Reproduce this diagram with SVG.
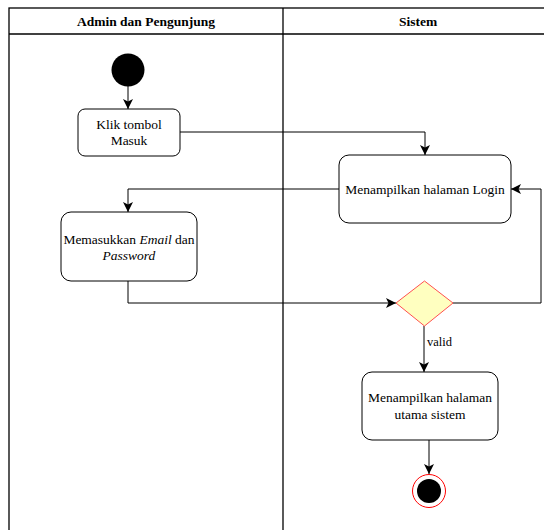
<svg xmlns="http://www.w3.org/2000/svg" width="544" height="530" viewBox="0 0 544 530">
<defs>
<style>
.lane{fill:none;stroke:#000;stroke-width:1.3}
.hdr{font-family:'Liberation Serif','Times New Roman','DejaVu Serif',serif;font-size:13.5px;font-weight:bold;text-anchor:middle;fill:#000}
.node{fill:#fff;stroke:#000;stroke-width:1}
.t{font-family:'Liberation Serif','Times New Roman','DejaVu Serif',serif;font-size:13.5px;text-anchor:middle;fill:#000}
.lbl{font-family:'Liberation Serif','Times New Roman','DejaVu Serif',serif;font-size:12.5px;fill:#000}
.c{fill:none;stroke:#000;stroke-width:1}
</style>
<marker id="arr" viewBox="0 0 10 10" refX="10" refY="5" markerWidth="10" markerHeight="10" markerUnits="userSpaceOnUse" orient="auto">
<path d="M0,0 L10,5 L0,10 L2.5,5 Z" fill="#000"/>
</marker>
</defs>
<rect width="544" height="530" fill="#fff"/>
<g id="lanes">
<rect class="lane" x="9" y="8" width="544" height="540"/>
<line class="lane" x1="9" y1="34" x2="553" y2="34"/>
<line class="lane" x1="283" y1="8" x2="283" y2="548"/>
<text class="hdr" x="146" y="25.5">Admin dan Pengunjung</text>
<text class="hdr" x="418" y="25.5">Sistem</text>
</g>
<g id="connectors">
<path class="c" d="M128,86 L128,109" marker-end="url(#arr)"/>
<path class="c" d="M180,132 L425,132 L425,155" marker-end="url(#arr)"/>
<path class="c" d="M339,189 L128,189 L128,212" marker-end="url(#arr)"/>
<path class="c" d="M128,281 L128,303 L396,303" marker-end="url(#arr)"/>
<path class="c" d="M453,303 L541,303 L541,189 L511,189" marker-end="url(#arr)"/>
<path class="c" d="M424,326 L424,372" marker-end="url(#arr)"/>
<text class="lbl" x="427" y="346">valid</text>
<path class="c" d="M429,440 L429,474" marker-end="url(#arr)"/>
</g>
<g id="start">
<circle cx="128" cy="70" r="16.5" fill="#000"/>
</g>
<g id="klik">
<rect class="node" x="78" y="109" width="102" height="47" rx="7"/>
<text class="t" x="129" y="129">Klik tombol</text>
<text class="t" x="129" y="145">Masuk</text>
</g>
<g id="login">
<rect class="node" x="339" y="155" width="172" height="68" rx="10"/>
<text class="t" x="425" y="194">Menampilkan halaman Login</text>
</g>
<g id="input">
<rect class="node" x="61" y="212" width="136" height="69" rx="10"/>
<text class="t" x="129" y="244">Memasukkan <tspan font-style="italic">Email</tspan> dan</text>
<text class="t" x="129" y="260" font-style="italic">Password</text>
</g>
<g id="decision">
<polygon points="396,303 424.5,281 453,303 424.5,326" fill="#ffffc0" stroke="#ff5050" stroke-width="1"/>
</g>
<g id="utama">
<rect class="node" x="362" y="372" width="136" height="68" rx="10"/>
<text class="t" x="430" y="402">Menampilkan halaman</text>
<text class="t" x="430" y="419">utama sistem</text>
</g>
<g id="end">
<circle cx="429" cy="491" r="16.5" fill="#fff" stroke="#ff0000" stroke-width="1"/>
<circle cx="429" cy="491" r="12" fill="#000"/>
</g>
</svg>
